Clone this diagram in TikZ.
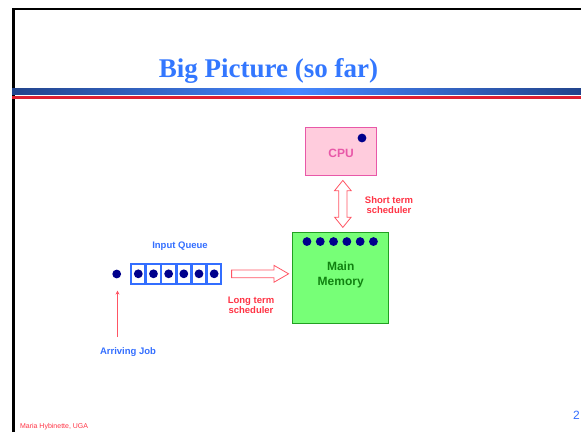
\documentclass[tikz,border=0pt]{standalone}
\usepackage{fontspec}
\setmainfont{Liberation Serif}
\setsansfont{Liberation Sans}
\usetikzlibrary{calc, positioning, shapes.arrows, arrows.meta}

\definecolor{titleblue}{RGB}{51,119,255}
\definecolor{bardark}{RGB}{34,68,140}
\definecolor{barlight}{RGB}{70,135,255}
\definecolor{barred}{RGB}{222,32,48}
\definecolor{cpufill}{RGB}{255,204,221}
\definecolor{cpuline}{RGB}{232,88,168}
\definecolor{memfill}{RGB}{119,255,119}
\definecolor{memline}{RGB}{34,160,34}
\definecolor{memtext}{RGB}{17,130,17}
\definecolor{jobnavy}{RGB}{0,0,140}
\definecolor{qblue}{RGB}{51,110,255}
\definecolor{schedred}{RGB}{255,51,68}
\definecolor{arrowred}{RGB}{255,85,100}

\begin{document}
\begin{tikzpicture}[x=1pt, y=-1pt, font=\sffamily\bfseries]
	% --- Stili ---
	\tikzset{
		cpubox/.style={draw=cpuline, fill=cpufill, line width=1.5pt, minimum width=71pt, minimum height=48pt, inner sep=0pt},
		membox/.style={draw=memline, fill=memfill, line width=1.5pt, minimum width=96pt, minimum height=91pt, inner sep=0pt},
		cell/.style={draw=qblue, line width=1.9pt, minimum width=14.2pt, minimum height=20pt, inner sep=0pt},
		job/.style={circle, fill=jobnavy, inner sep=0pt, minimum size=8.8pt},
		fatarrow/.style={single arrow, draw=arrowred, fill=white, line width=0.8pt, inner sep=0pt,
			text height=3.5pt, text depth=3.5pt, single arrow head extend=4.5pt, single arrow tip angle=60, minimum height=57pt},
		dblarrow/.style={double arrow, draw=arrowred, fill=white, line width=0.8pt, inner sep=0pt, rotate=90,
			text height=3.7pt, text depth=3.7pt, double arrow head extend=4.2pt, double arrow tip angle=78, minimum height=47pt},
		sched/.style={text=schedred, font=\sffamily\bfseries\fontsize{9.5}{10}\selectfont, align=center},
		bluelabel/.style={text=qblue, font=\sffamily\bfseries\fontsize{9.5}{11}\selectfont}
	}
	\useasboundingbox (0,0) rectangle (581,432);

	% --- Cornice e titolo ---
	\draw[line width=2.5pt] (13.5,432) -- (13.5,9) -- (581,9);
	\node[text=titleblue, font=\fontsize{27}{30}\selectfont\bfseries, anchor=base] (title) at (268.5,77.7) {Big Picture (so far)};
	\shade[left color=bardark, right color=bardark, middle color=barlight] (12,88) rectangle (581,94);
	\fill[barred] (12,96) rectangle (581,99);

	% --- CPU ---
	\node[cpubox] (cpu) at (341,151.5) {};
	\node[text=cpuline, font=\sffamily\bfseries\fontsize{12}{14}\selectfont] (cpulabel) at ($(cpu.center)+(0,2)$) {CPU};
	\node[job] (cpujob) at (362,138) {};

	% --- Memoria ---
	\node[membox] (mem) at (340.7,277.8) {};
	\foreach \i in {0,...,5}
		\node[job] (mjob\i) at ($(mem.north west)+(15+13.3*\i,10)$) {};
	\node[text=memtext, align=center, font=\sffamily\bfseries\fontsize{12}{15}\selectfont] (memlabel) at ($(mem.center)+(0,-2.5)$) {Main\\Memory};

	% --- Coda ---
	\foreach \i in {1,...,6}{
		\node[cell] (q\i) at (138.3+15.17*\i-15.17,273.8) {};
		\node[job] at (q\i) {};
	}
	\node[bluelabel] (qlabel) at (180,246) {Input Queue};
	\node[job] (newjob) at (116.7,274) {};
	\node[bluelabel] (arrlabel) at (128,352) {Arriving Job};
	\coordinate (arrstart) at (117.5,337);
	\draw[-{Stealth[length=4pt, width=4pt]}, arrowred, line width=0.9pt] (arrstart) -- ($(newjob.south)+(0.8,12)$);

	% --- Schedulers ---
	\node[fatarrow, anchor=tail] (ltarrow) at ($(q6.east)+(9,0)$) {};
	\node[sched] (ltlabel) at (251,305) {Long term\\scheduler};
	\node[dblarrow] (starrow) at ($(cpu.south)!0.5!(mem.north)+(2,0)$) {};
	\node[sched] (stlabel) at (389,205) {Short term\\scheduler};

	% --- Piede ---
	\node[text=schedred, font=\sffamily\fontsize{7}{8}\selectfont, anchor=west] (author) at (16.5,426.7) {Maria Hybinette, UGA};
	\node[text=qblue, font=\sffamily\fontsize{12}{14}\selectfont, anchor=east, inner xsep=1pt] (pagenum) at (581,415) {2};
\end{tikzpicture}
\end{document}
